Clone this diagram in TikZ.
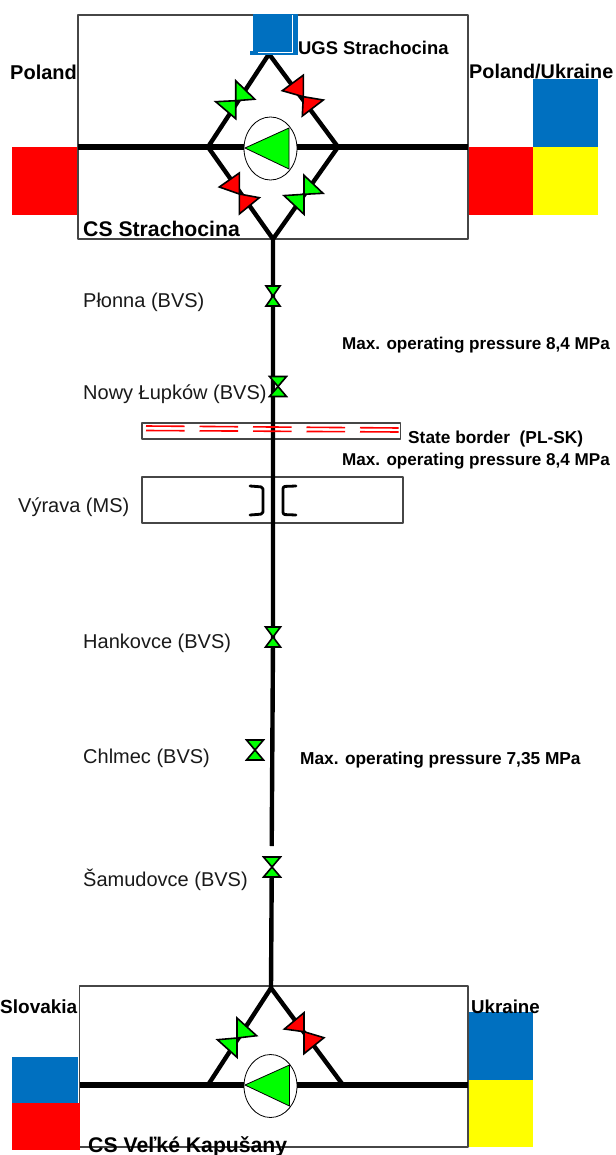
\documentclass[tikz,border=0pt]{standalone}
\usepackage{fontspec}
\setmainfont{Liberation Sans}
\usetikzlibrary{shapes.geometric,calc}
\definecolor{flagred}{RGB}{255,0,0}
\definecolor{flagblue}{RGB}{0,112,192}
\definecolor{flagyellow}{RGB}{255,255,0}
\definecolor{vgreen}{RGB}{0,255,0}
\definecolor{boxgrey}{RGB}{70,70,70}
\tikzset{
  x=1pt,y=-1pt,
  pipe/.style={line width=4.4pt,black},
  mainpipe/.style={line width=5.6pt,black},
  stationbox/.style={draw=boxgrey,line width=1.6pt,line join=round},
  vtri/.style={draw=black,line width=1.6pt,line join=miter},
  pumpcase/.style={draw=black,fill=white,line width=0.8pt,ellipse,inner sep=0pt,minimum width=53pt,minimum height=63pt},
  labelbold/.style={font=\fontsize{#1}{22}\selectfont\bfseries,inner sep=0pt,anchor=west},
  plainl/.style={font=\fontsize{20}{22}\selectfont,inner sep=0pt,anchor=west,text=black!90},
  bracket/.style={line width=2.8pt,line join=round,line cap=round,rounded corners=2pt},
  pumptri/.style={fill=vgreen,draw=black,line width=0.8pt},
  borderdash/.style={flagred,line width=1.6pt,dash pattern=on 38.7pt off 14.8pt},
}
% \bvalve{name}{x,y}{colour}{tri1 pt a}{tri1 pt b}{tri2 pt a}{tri2 pt b}
\newcommand{\bvalve}[7]{%
  \coordinate (#1) at (#2);
  \draw[vtri,fill=#3] (#1) -- ($(#1)+(#4)$) -- ($(#1)+(#5)$) -- cycle;
  \draw[vtri,fill=#3] (#1) -- ($(#1)+(#6)$) -- ($(#1)+(#7)$) -- cycle;}
\newcommand{\hvalve}[3]{%
  \bvalve{#1}{#2}{vgreen}{-#3,-10}{#3,-10}{-#3,10}{#3,10}}
\begin{document}
\begin{tikzpicture}
\useasboundingbox (0,0) rectangle (615,1155);
% flags top
\fill[flagred] (12,147) rectangle (78,215);
\fill[flagred] (468,147) rectangle (533,215);
\fill[flagyellow] (533,147) rectangle (598,215);
\fill[flagblue] (533,79) rectangle (598,147);
% flags bottom right
\fill[flagyellow] (468,1080) rectangle (533,1147);
\fill[flagblue] (468,1012) rectangle (533,1080);
% boxes
\draw[stationbox] (78,15) rectangle (468,239);
\draw[stationbox] (79.5,986) rectangle (468,1147);
\draw[stationbox,line width=1.4pt] (142,423) rectangle (400.5,439);
\draw[stationbox,line width=1.4pt] (142,477) rectangle (403,523);
% flags bottom left
\fill[flagblue] (12,1057) rectangle (78,1103);
\fill[flagred] (12,1103) rectangle (80,1150);
% junctions
\coordinate (ugs) at (269,54);
\coordinate (tl) at (208,147);
\coordinate (tr) at (338,147);
\coordinate (tb) at (273,239);
\coordinate (west1) at (78,147);
\coordinate (east1) at (468,147);
\coordinate (bt) at (271,988);
\coordinate (bl) at (208,1085);
\coordinate (br) at (343,1085);
\coordinate (west2) at (79.5,1085);
\coordinate (east2) at (468,1085);
\coordinate (midA) at (273,640);
\coordinate (midB) at (271.7,846);
\coordinate (midC) at (271.7,878);
% pipes
\draw[mainpipe] (west1) -- (east1);
\draw[mainpipe] (west2) -- (east2);
\draw[pipe,line join=miter] (tl) -- (ugs) -- (tr) -- (tb) -- cycle;
\draw[pipe,line join=miter] (bl) -- (bt) -- (br);
\draw[pipe] (tb) -- (midA) -- (midB);
\draw[pipe] (midC) -- (bt);
% UGS storage
\fill[flagblue] (253,14) rectangle (298,55);
\fill[flagblue] (250,51) rectangle (292,55);
\draw[white,line width=0.9pt] (258,52.5) -- (292.5,52.5) -- (292.5,15);
% border dashes
\draw[borderdash] (146,426) -- (399,428);
\draw[borderdash] (146,430.5) -- (399,432);
% metering brackets
\draw[bracket] (250,486) -- (263,487) -- (263,514) -- (250,515);
\draw[bracket] (296,486) -- (283,486.5) -- (283,514.5) -- (296,515);
% pumps
\node[pumpcase] (pump1) at (270.5,148.5) {};
\node[pumpcase] (pump2) at (270.5,1086) {};
\draw[pumptri] (245,148) -- (289,128) -- (289,169) -- cycle;
\draw[pumptri] (245,1085) -- (289.5,1065) -- (289.5,1106) -- cycle;
% butterfly valves
\bvalve{v1}{235.7,100.7}{vgreen}{0,-20}{19,-1.5}{-20,1}{0,18}
\bvalve{v2}{303.3,96.7}{flagred}{0,-21.5}{-21,-6}{20,3.3}{-1,19.3}
\bvalve{v3}{239.3,194}{flagred}{0,-21}{-20,-7}{20,3.7}{0,20}
\bvalve{v4}{304,194.3}{vgreen}{0,-19}{19,-1}{-20,1.3}{0,20}
\bvalve{v5}{237,1038}{vgreen}{0,-20}{19.6,-2.3}{-19.6,1.7}{0,19.3}
\bvalve{v6}{304,1031.7}{flagred}{0,-19}{-19.6,-2.7}{20,6}{0,22}
% line valves
\hvalve{plonna}{273,296}{7}
\hvalve{lupkow}{278,386.5}{8.5}
\hvalve{hankovce}{273,637}{7.5}
\hvalve{chlmec}{255,750}{8.5}
\hvalve{samudovce}{272,867}{8.5}
% labels
\node[labelbold=18.4] (t1) at (298,48) {UGS Strachocina};
\node[labelbold=20] (t2) at (10,72) {Poland};
\node[labelbold=19.8] (t3) at (469,72) {Poland/Ukraine};
\node[labelbold=21.2] (t4) at (83,229) {CS Strachocina};
\node[plainl] (t5) at (83,302) {Płonna (BVS)};
\node[labelbold=17.1] (t6) at (342,345) {Max. operating pressure 8,4 MPa};
\node[plainl] (t7) at (83,394.5) {Nowy Łupków (BVS)};
\node[labelbold=17.3] (t8) at (408,439.5) {State border \ (PL-SK)};
\node[labelbold=17.1] (t9) at (342,461) {Max. operating pressure 8,4 MPa};
\node[plainl] (t10) at (18,507.5) {Výrava (MS)};
\node[plainl] (t11) at (83,643.5) {Hankovce (BVS)};
\node[plainl] (t12) at (83,758.5) {Chlmec (BVS)};
\node[labelbold=17.3] (t13) at (300,760) {Max. operating pressure 7,35 MPa};
\node[plainl] (t14) at (83,880) {Šamudovce (BVS)};
\node[labelbold=19] (t15) at (0,1007) {Slovakia};
\node[labelbold=18.7] (t16) at (471,1007) {Ukraine};
\node[labelbold=21.2] (t17) at (88,1146.5) {CS Veľké Kapušany};
\end{tikzpicture}
\end{document}
